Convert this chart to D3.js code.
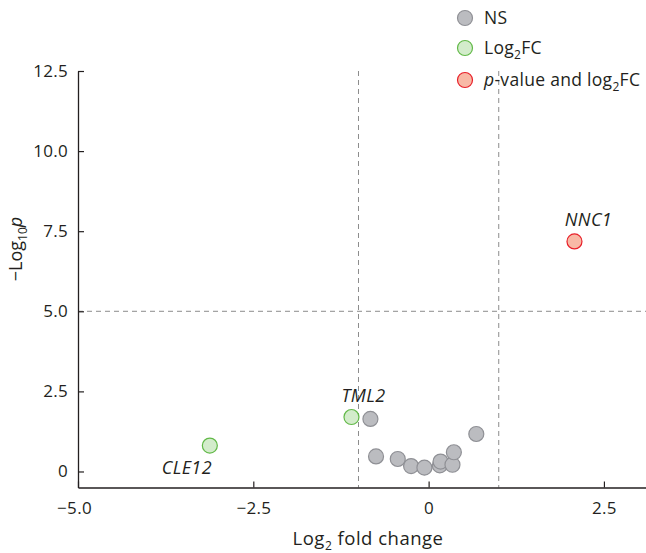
<!DOCTYPE html>
<html>
<head>
<meta charset="utf-8">
<script src="https://cdn.jsdelivr.net/npm/d3@7"></script>
<style>
  body { margin: 0; background: #fff; }
  text { font-family: "Open Sans", sans-serif; fill: #231f20; }
</style>
</head>
<body>
<svg id="chart"></svg>
<script>
// data
const nsX = [-0.83, -0.75, -0.44, -0.25, -0.06, 0.16, 0.17, 0.34, 0.36, 0.68];
const nsY = [1.64, 0.47, 0.39, 0.17, 0.12, 0.19, 0.31, 0.21, 0.60, 1.17];
const fcGenes = ["CLE12", "TML2"];
const fcX = [-3.12, -1.10];
const fcY = [0.81, 1.70];
const sigGenes = ["NNC1"];
const sigX = [2.08];
const sigY = [7.18];
const xTicks = [-5, -2.5, 0, 2.5];
const yTicks = [0, 2.5, 5, 7.5, 10, 12.5];
const fcCut = 1, pCut = 5;

const W = 646, H = 553;
const svg = d3.select("#chart").attr("width", W).attr("height", H);

const x = d3.scaleLinear().domain([-5, 3.1]).range([78, 646]);
const y = d3.scaleLinear().domain([-0.5, 12.5]).range([487.5, 71]);

const fmt = d => d === 0 ? "0" : d.toFixed(1).replace("-", "\u2212");

// threshold lines
const dash = svg.append("g").attr("stroke", "#8c8c8c").attr("stroke-width", 1).attr("stroke-dasharray", "5,4");
[-fcCut, fcCut].forEach(v => {
  dash.append("line").attr("x1", x(v)).attr("x2", x(v)).attr("y1", y(12.5)).attr("y2", y(-0.5));
});
dash.append("line").attr("x1", x(-5)).attr("x2", W).attr("y1", y(pCut)).attr("y2", y(pCut));

// axes
const xAxis = svg.append("g")
  .attr("transform", "translate(0," + y(-0.5) + ")")
  .call(d3.axisBottom(x).tickValues(xTicks).tickFormat(fmt).tickSizeInner(-6).tickSizeOuter(0).tickPadding(14));
const yAxis = svg.append("g")
  .attr("transform", "translate(" + x(-5) + ",0)")
  .call(d3.axisLeft(y).tickValues(yTicks).tickFormat(fmt).tickSizeInner(-6).tickSizeOuter(0).tickPadding(10));
[xAxis, yAxis].forEach(a => {
  a.select(".domain").attr("stroke", "#231f20").attr("stroke-width", 1.3);
  a.selectAll(".tick line").attr("stroke", "#231f20").attr("stroke-width", 1.2);
  a.selectAll(".tick text").style("font-family", "'Open Sans', sans-serif").style("font-size", "17px")
    .style("letter-spacing", "0.3px").attr("fill", "#231f20");
});
xAxis.selectAll(".tick text").filter(d => d === -5).attr("dx", -4);

// points
const dot = (gx, gy, fill, stroke) => {
  svg.append("g").selectAll("circle")
    .data(gx.map((v, i) => [v, gy[i]]))
    .enter().append("circle")
    .attr("cx", d => x(d[0]))
    .attr("cy", d => y(d[1]))
    .attr("r", 7.5)
    .attr("fill", fill)
    .attr("stroke", stroke)
    .attr("stroke-width", 1.2);
};
dot(nsX, nsY, "#bbbcc0", "#8f9095");
dot(fcX, fcY, "#d3eccb", "#62b948");
dot(sigX, sigY, "#f8b9a6", "#e8202a");

// gene labels
const lab = (names, gx, gy, dx, dy) => {
  svg.append("g").selectAll("text")
    .data(names.map((n, i) => [n, gx[i], gy[i]]))
    .enter().append("text")
    .attr("x", d => x(d[1]) + dx)
    .attr("y", d => y(d[2]) + dy)
    .attr("text-anchor", "middle")
    .style("font-size", "18px")
    .style("letter-spacing", "0.4px")
    .style("font-style", "italic")
    .text(d => d[0]);
};
lab([fcGenes[0]], [fcX[0]], [fcY[0]], -23, 28);
lab([fcGenes[1]], [fcX[1]], [fcY[1]], 12, -15);
lab(sigGenes, sigX, sigY, 14, -15);

// axis titles
const xt = svg.append("text").attr("x", 368).attr("y", 545).attr("text-anchor", "middle")
  .style("font-size", "18.5px").style("letter-spacing", "0.5px");
xt.append("tspan").text("Log");
xt.append("tspan").attr("dy", 5).style("font-size", "12px").text("2");
xt.append("tspan").attr("dy", -5).text(" fold change");

const yt = svg.append("text").attr("transform", "translate(22,249) rotate(-90)").attr("text-anchor", "middle").style("font-size", "18px");
yt.append("tspan").text("\u2212Log");
yt.append("tspan").attr("dy", 5).style("font-size", "12px").text("10");
yt.append("tspan").attr("dy", -5).style("font-style", "italic").text("p");

// legend
const legend = [
  {fill: "#bbbcc0", stroke: "#8f9095", parts: [["NS"]]},
  {fill: "#d3eccb", stroke: "#62b948", parts: [["Log"], ["2", "sub"], ["FC"]]},
  {fill: "#f8b9a6", stroke: "#e8202a", parts: [["p", "it"], ["-value and log"], ["2", "sub"], ["FC"]]}
];
const ly = [18, 48, 80];
legend.forEach((l, i) => {
  svg.append("circle").attr("cx", 465).attr("cy", ly[i]).attr("r", 7.5)
    .attr("fill", l.fill).attr("stroke", l.stroke).attr("stroke-width", 1.2);
  const t = svg.append("text").attr("x", 484).attr("y", ly[i] + 6).style("font-size", "17.5px").style("letter-spacing", "0.3px");
  let sub = false;
  l.parts.forEach(p => {
    const ts = t.append("tspan").text(p[0]);
    if (p[1] === "sub") { ts.attr("dy", 5).style("font-size", "12px"); sub = true; }
    else if (sub) { ts.attr("dy", -5); sub = false; }
    if (p[1] === "it") ts.style("font-style", "italic");
  });
});
</script>
</body>
</html>
